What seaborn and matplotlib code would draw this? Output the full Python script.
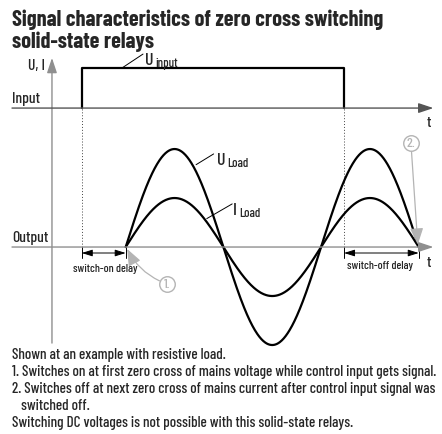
import numpy as np
import pandas as pd
import matplotlib
matplotlib.use("Agg")
import matplotlib.pyplot as plt
import seaborn as sns
from matplotlib import font_manager

# ── Data (time in half periods of the mains, amplitude relative to U_Load) ────
zero_cross   = [0.0, 1.0, 2.0, 3.0]      # zero crossings of the mains
u_load_amp   = 1.0
i_load_amp   = 0.5
input_on     = -0.45                     # control signal switched on
input_off    = 2.235                     # control signal switched off
input_base   = 1.418                     # level of the "Input" trace baseline
input_high   = 0.41                      # height of the input pulse
signal_names = ["U_Load", "I_Load"]

TITLE = ["Signal characteristics of zero cross switching", "solid-state relays"]
NOTES = [
    ("Shown at an example with resistive load.", 0),
    ("1. Switches on at first zero cross of mains voltage while control input gets signal.", 0),
    ("2. Switches off at next zero cross of mains current after control input signal was", 0),
    ("switched off.", 1),
    ("Switching DC voltages is not possible with this solid-state relays.", 0),
]

# ── Fonts ─────────────────────────────────────────────────────────────────────
sns.set_theme(style="white")
installed = {f.name for f in font_manager.fontManager.ttflist}
BODY = [n for n in ["Barlow Condensed", "Roboto Condensed", "Liberation Sans Narrow"]
        if n in installed] + ["DejaVu Sans"]
plt.rcParams["font.family"] = BODY
plt.rcParams["font.weight"] = "medium"

fig = plt.figure(figsize=(4.42, 4.35), dpi=100)
renderer = fig.canvas.get_renderer()


def fit_size(text, width_px, **kw):
    # font size that makes `text` as wide as in the reference
    probe = fig.text(0, 0, text, fontsize=10, **kw)
    w = probe.get_window_extent(renderer).width
    probe.remove()
    return 10 * width_px / w


def px(x, y):
    # reference pixel -> figure fraction (for the free text blocks)
    return x / 442, 1 - y / 435


# ── Build the curves ──────────────────────────────────────────────────────────
t = np.linspace(zero_cross[0], zero_cross[-1], 600)
waves = pd.concat([
    pd.DataFrame({"t": t, "v": u_load_amp * np.sin(np.pi * t), "signal": signal_names[0]}),
    pd.DataFrame({"t": t, "v": i_load_amp * np.sin(np.pi * t), "signal": signal_names[1]}),
])
pulse = pd.DataFrame({
    "t": [input_on, input_on, input_off, input_off],
    "v": [input_base, input_base + input_high, input_base + input_high, input_base],
})

ax = fig.add_axes([0, 0, 1, 1])

GREY = "#8f8f8f"
LIGHT = "#b4b4b4"
head = dict(arrowstyle="-|>,head_length=0.9,head_width=0.3", lw=1.0,
            mutation_scale=10, shrinkA=0, shrinkB=0)

# axes of the diagram
ax.annotate("", xy=(-0.755, 1.93), xytext=(-0.755, -0.98),
            arrowprops=dict(color=GREY, **head))
ax.annotate("", xy=(3.15, input_base), xytext=(-1.164, input_base),
            arrowprops=dict(color="#555555", **head))
ax.annotate("", xy=(3.15, 0.0), xytext=(-1.164, 0.0),
            arrowprops=dict(color=GREY, **head))

# dotted guides at switching instants
for x in [input_on, input_off]:
    ax.plot([x, x], [0, input_base], ls=(0, (1, 2)), color="#444444", lw=0.7)

# signals
sns.lineplot(data=pulse, x="t", y="v", sort=False, estimator=None,
             color="black", lw=1.6, ax=ax)
sns.lineplot(data=waves, x="t", y="v", hue="signal", estimator=None,
             palette=["black", "black"], lw=1.6, legend=False, ax=ax)
ax.set_xlim(-1.287, 3.238)
ax.set_ylim(-1.908, 2.531)
ax.set_axis_off()

# delay markers
for x0, x1 in [(input_on, zero_cross[0]), (input_off, zero_cross[-1])]:
    for x in (x0, x1):
        ax.plot([x, x], [0, -0.11], color="black", lw=0.7)
    ax.annotate("", xy=(x1, -0.061), xytext=(x0, -0.061),
                arrowprops=dict(arrowstyle="<|-|>,head_length=0.8,head_width=0.25",
                                color="black", lw=0.7, mutation_scale=8,
                                shrinkA=0, shrinkB=0))
small = fit_size("switch-off delay", 66)
ax.text(-0.206, -0.245, "switch-on delay", ha="center", va="baseline", fontsize=small)
ax.text(2.608, -0.215, "switch-off delay", ha="center", va="baseline", fontsize=small)

# axis labels
big = fit_size("Output", 36)
ax.text(*px(45, 70), "U, I", ha="right", va="baseline", fontsize=big, transform=fig.transFigure)
ax.text(*px(12, 103), "Input", ha="left", va="baseline", fontsize=big, transform=fig.transFigure)
ax.text(*px(12, 242), "Output", ha="left", va="baseline", fontsize=big, transform=fig.transFigure)
ax.text(3.085, 1.23, "t", ha="left", va="baseline", fontsize=big)
ax.text(3.085, -0.19, "t", ha="left", va="baseline", fontsize=big)

# signal labels with leader lines
main_size = big * 1.15
sub_size = fit_size("input", 23)


def label(x, y, main, sub, leader):
    ax.plot(*zip(*leader), color="black", lw=0.7)
    txt = ax.text(x, y, main, ha="left", va="baseline", fontsize=main_size)
    ax.annotate(sub, xycoords=(txt, "data"), xy=(1.0, y), xytext=(1.2, -1.5),
                textcoords="offset points", ha="left", va="baseline",
                fontsize=sub_size)


label(0.198, 1.867, "U", "input", [(-0.038, 1.827), (0.177, 1.969)])
label(0.931, 0.847, "U", "Load", [(0.72, 0.84), (0.90, 0.95)])
label(1.10, 0.337, "I", "Load", [(0.83, 0.29), (1.09, 0.44)])

# circled notes with pointers
pointer = dict(arrowstyle="-|>,head_length=1.0,head_width=0.4", color=LIGHT, lw=0.9,
               mutation_scale=10, shrinkA=6, shrinkB=0)
for num, (cx, cy), tip, rad in [("1.", (0.425, -0.378), (0.015, -0.02), -0.2),
                                 ("2.", (2.92, 1.06), (2.99, 0.025), 0.0)]:
    ax.scatter([cx], [cy], s=125, facecolor="white", edgecolor=LIGHT, lw=1.0, zorder=4)
    ax.text(cx, cy, num, color=LIGHT, fontsize=small * 1.2, ha="center",
            va="center", zorder=5)
    ax.annotate("", xy=tip, xytext=(cx, cy),
                arrowprops=dict(connectionstyle=f"arc3,rad={rad}", **pointer))

# title and notes
for i, line in enumerate(TITLE):
    fig.text(*px(12, 26 + 21.5 * i), line, ha="left", va="baseline",
             fontsize=16, fontweight="bold")
note_size = fit_size(NOTES[1][0], 425)
for i, (line, indent) in enumerate(NOTES):
    fig.text(*px(12 + 9 * indent, 359 + 17 * i), line,
             ha="left", va="baseline", fontsize=note_size)

plt.savefig("out.png", dpi=100)
plt.close()
